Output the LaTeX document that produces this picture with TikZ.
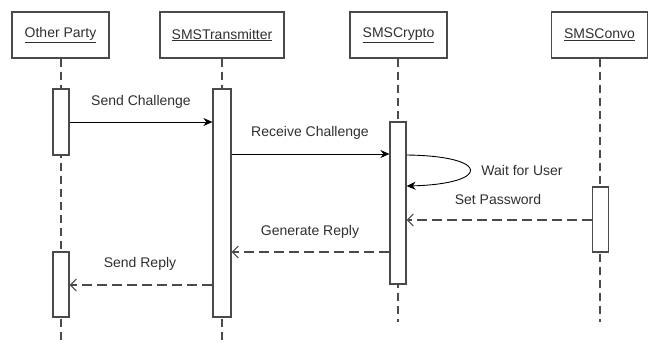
\documentclass[tikz,border=0pt]{standalone}
\usepackage{fontspec}
\setmainfont{Liberation Sans}
\usetikzlibrary{arrows.meta}
\definecolor{ink}{HTML}{4A4A4A}
\definecolor{txt}{HTML}{303030}
\begin{document}
\begin{tikzpicture}[x=1pt,y=-1pt,
  every node/.style={font=\fontsize{14}{16}\selectfont, text=txt},
  head/.style={draw=ink, line width=1.4pt, fill=white, minimum height=46pt, inner sep=0pt},
  act/.style={draw=ink, line width=1.2pt, fill=white, minimum width=16pt, inner sep=0pt},
  life/.style={draw=ink, line width=1.2pt, dash pattern=on 8pt off 5pt},
  sync/.style={draw=black, line width=0.9pt, -{Stealth[length=9pt,width=8pt]}},
  reply/.style={draw=ink, line width=1.1pt, dash pattern=on 10pt off 5pt, -{Straight Barb[length=6pt,width=12pt,line width=1pt]}},
  lbl/.style={inner sep=0pt}
]
\useasboundingbox (0,0) rectangle (648,343);
\fill[white] (0,0) rectangle (648,343);
% lifelines
\coordinate (opEnd) at (61,343);
\coordinate (trEnd) at (222,343);
\coordinate (crEnd) at (398,322);
\coordinate (cvEnd) at (600,322);
\node[head, minimum width=97pt] (op) at (60.5,35) {\underline{Other Party}};
\node[head, minimum width=124pt] (tr) at (222,35) {\underline{SMSTransmitter}};
\node[head, minimum width=97pt] (cr) at (398.5,35) {\underline{SMSCrypto}};
\node[head, minimum width=96pt] (cv) at (599.5,35) {\underline{SMSConvo}};
\draw[life] (op.south -| opEnd) -- (opEnd);
\draw[life] (tr.south) -- (trEnd);
\draw[life] (cr.south -| crEnd) -- (crEnd);
\draw[life] (cv.south -| cvEnd) -- (cvEnd);
% activation bars
\node[act, minimum height=66pt] (op1) at (61,122) {};
\node[act, minimum width=18pt, minimum height=228pt] (tr1) at (222,203) {};
\node[act, minimum height=162pt] (cr1) at (398,203) {};
\node[act, minimum height=65pt] (cv1) at (600.5,219.5) {};
\node[act, minimum height=65pt] (op2) at (61,284.5) {};
% messages
\coordinate (m1) at (0,122);
\coordinate (m2) at (0,154);
\coordinate (m3a) at (0,155);
\coordinate (m3b) at (0,186);
\coordinate (m4) at (0,220);
\coordinate (m5) at (0,252);
\coordinate (m6) at (0,285);
\draw[sync] (op1.east |- m1) -- (tr1.west |- m1);
\node[lbl] (l1) at (141,102) {Send Challenge};
\draw[sync] (tr1.east |- m2) -- (cr1.west |- m2);
\node[lbl] (l2) at (310,133) {Receive Challenge};
\draw[sync] (cr1.east |- m3a) .. controls (492,156) and (490,184) .. (cr1.east |- m3b);
\node[lbl] (l3) at (522,170) {Wait for User};
\draw[reply] (cv1.west |- m4) -- (cr1.east |- m4);
\node[lbl] (l4) at (498,199) {Set Password};
\draw[reply] (cr1.west |- m5) -- (tr1.east |- m5);
\node[lbl] (l5) at (310,232) {Generate Reply};
\draw[reply] (tr1.west |- m6) -- (op2.east |- m6);
\node[lbl] (l6) at (140,264) {Send Reply};
\end{tikzpicture}
\end{document}
